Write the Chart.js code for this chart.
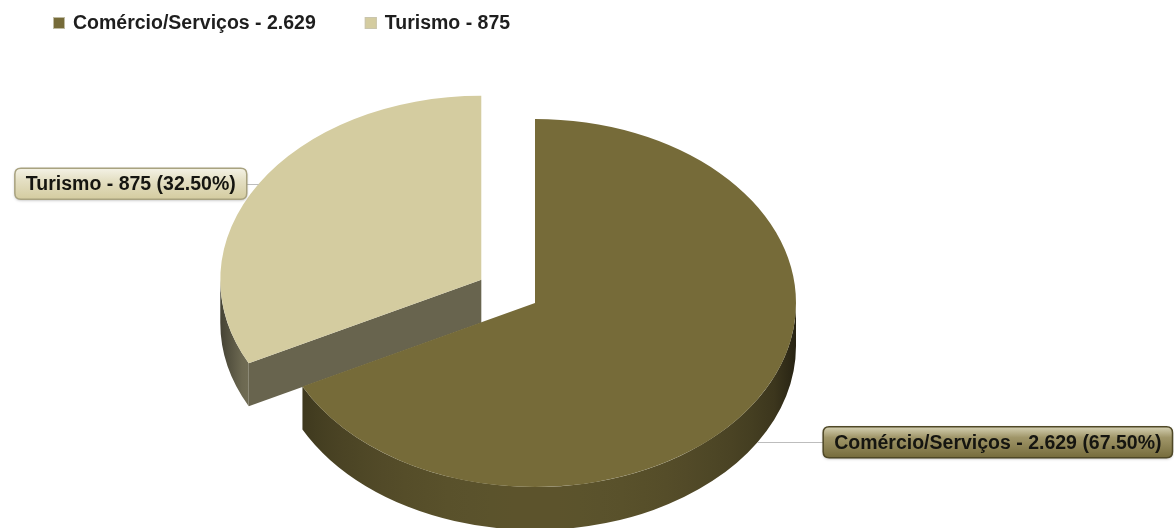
<!DOCTYPE html>
<html>
<head>
<meta charset="utf-8">
<script src="https://cdn.jsdelivr.net/npm/chart.js@4.4.1/dist/chart.umd.min.js"></script>
<style>
    html, body { margin: 0; padding: 0; background: #fff; overflow: hidden; }
    #wrap { width: 1174px; height: 528px; position: relative; }
</style>
</head>
<body>
<div id="wrap"><canvas id="graficoSetores"></canvas></div>
<script>
// ----- DADOS -----
const categorias = ['Comércio/Serviços', 'Turismo'];
const quantidades = [2629, 875];
const percentuais = [67.50, 32.50];
const coresTopo = ['#766b39', '#d4cca0'];

// ----- ESTILO 3D -----
const ACHATAMENTO = 0.705;   // razão altura/largura da elipse
const ESPESSURA = 43;        // altura lateral da pizza
const DESTAQUE = [0, 63];    // deslocamento radial de cada fatia
const FONTE = "bold 19.5px 'Liberation Sans', Arial, sans-serif";

function formataNumero(n) {
    return String(n).replace(/\B(?=(\d{3})+(?!\d))/g, '.');
}

function hexParaRgb(hex) {
    const v = parseInt(hex.slice(1), 16);
    return [(v >> 16) & 255, (v >> 8) & 255, v & 255];
}

function rgb(c, f) {
    return `rgb(${Math.round(c[0] * f)}, ${Math.round(c[1] * f)}, ${Math.round(c[2] * f)})`;
}

// centro vertical usado como eixo do achatamento
function pivo(chart) {
    return (chart.chartArea.top + chart.chartArea.bottom) / 2;
}

function centroTela(arc, py) {
    return { x: arc.x, y: py + (arc.y - py) * ACHATAMENTO };
}

function pontoBorda(arc, ang, py) {
    const c = centroTela(arc, py);
    return {
        x: c.x + arc.outerRadius * Math.cos(ang),
        y: c.y + arc.outerRadius * ACHATAMENTO * Math.sin(ang)
    };
}

// laterais (parte curva + cortes) de uma fatia
function desenhaLaterais(ctx, arc, i, py) {
    const base = hexParaRgb(coresTopo[i]);
    const c = centroTela(arc, py);
    const R = arc.outerRadius;
    const s = arc.startAngle;
    const e = arc.endAngle;

    // cortes radiais virados para a frente
    const cortes = [];
    if (Math.cos(s) < -1e-6) cortes.push(s);
    if (Math.cos(e) > 1e-6) cortes.push(e);
    cortes.forEach(ang => {
        const p = pontoBorda(arc, ang, py);
        ctx.beginPath();
        ctx.moveTo(c.x, c.y);
        ctx.lineTo(p.x, p.y);
        ctx.lineTo(p.x, p.y + ESPESSURA);
        ctx.lineTo(c.x, c.y + ESPESSURA);
        ctx.closePath();
        ctx.fillStyle = rgb(base, 0.49);
        ctx.fill();
    });

    // parede curva: só a metade da frente (0..PI)
    const grad = ctx.createLinearGradient(c.x - R, 0, c.x + R, 0);
    for (let k = 0; k <= 24; k++) {
        const t = k / 24;
        const seno = Math.sqrt(Math.max(0, 1 - Math.pow(2 * t - 1, 2)));
        grad.addColorStop(t, rgb(base, 0.78 * (0.42 + 0.58 * seno)));
    }
    for (let volta = -1; volta <= 1; volta++) {
        const ini = Math.max(s, volta * 2 * Math.PI);
        const fim = Math.min(e, volta * 2 * Math.PI + Math.PI);
        if (fim <= ini) continue;
        ctx.beginPath();
        ctx.ellipse(c.x, c.y, R, R * ACHATAMENTO, 0, ini, fim, false);
        ctx.ellipse(c.x, c.y + ESPESSURA, R, R * ACHATAMENTO, 0, fim, ini, true);
        ctx.closePath();
        ctx.fillStyle = grad;
        ctx.fill();
    }
}

function caixaArredondada(ctx, x, y, w, h, r) {
    ctx.beginPath();
    ctx.moveTo(x + r, y);
    ctx.lineTo(x + w - r, y);
    ctx.quadraticCurveTo(x + w, y, x + w, y + r);
    ctx.lineTo(x + w, y + h - r);
    ctx.quadraticCurveTo(x + w, y + h, x + w - r, y + h);
    ctx.lineTo(x + r, y + h);
    ctx.quadraticCurveTo(x, y + h, x, y + h - r);
    ctx.lineTo(x, y + r);
    ctx.quadraticCurveTo(x, y, x + r, y);
    ctx.closePath();
}

// rótulos com linha de chamada
function desenhaRotulos(chart, py) {
    const ctx = chart.ctx;
    const meta = chart.getDatasetMeta(0);
    ctx.save();
    ctx.font = FONTE;
    meta.data.forEach((arc, i) => {
        const meio = (arc.startAngle + arc.endAngle) / 2;
        const p = pontoBorda(arc, meio, py);
        if (Math.sin(meio) > 0) p.y += ESPESSURA;

        const texto = `${categorias[i]} - ${formataNumero(quantidades[i])} (${percentuais[i].toFixed(2)}%)`;
        const w = ctx.measureText(texto).width + 22;
        const h = 31;
        const esquerda = Math.cos(meio) < 0;
        const bx = esquerda ? p.x - 12 - w : chart.width - 1.5 - w;
        const by = p.y - h / 2;

        // linha de chamada
        ctx.strokeStyle = '#bdbdbd';
        ctx.lineWidth = 1;
        ctx.beginPath();
        ctx.moveTo(p.x, Math.round(p.y) + 0.5);
        ctx.lineTo(esquerda ? bx + w : bx, Math.round(p.y) + 0.5);
        ctx.stroke();

        // caixa com degradê
        const base = hexParaRgb(coresTopo[i]);
        const g = ctx.createLinearGradient(0, by, 0, by + h);
        if (i === 0) {
            g.addColorStop(0, 'rgb(214, 210, 180)');
            g.addColorStop(0.35, 'rgb(160, 150, 105)');
            g.addColorStop(1, 'rgb(118, 108, 60)');
        } else {
            g.addColorStop(0, 'rgb(244, 242, 230)');
            g.addColorStop(0.4, 'rgb(228, 223, 195)');
            g.addColorStop(1, rgb(base, 1));
        }
        ctx.save();
        ctx.shadowColor = 'rgba(0, 0, 0, 0.3)';
        ctx.shadowBlur = 3;
        ctx.shadowOffsetY = 1;
        caixaArredondada(ctx, bx, by, w, h, 6);
        ctx.fillStyle = g;
        ctx.fill();
        ctx.restore();
        caixaArredondada(ctx, bx, by, w, h, 6);
        ctx.strokeStyle = i === 0 ? '#4f4826' : '#a8a27f';
        ctx.lineWidth = 1.5;
        ctx.stroke();

        ctx.fillStyle = '#151510';
        ctx.textAlign = 'center';
        ctx.textBaseline = 'middle';
        ctx.fillText(texto, bx + w / 2, p.y + 1);
    });
    ctx.restore();
}

// legenda no topo
function desenhaLegenda(chart) {
    const ctx = chart.ctx;
    ctx.save();
    ctx.font = FONTE;
    ctx.textBaseline = 'middle';
    ctx.textAlign = 'left';
    let x = 53;
    categorias.forEach((cat, i) => {
        ctx.fillStyle = coresTopo[i];
        ctx.fillRect(x, 17, 12, 12);
        ctx.strokeStyle = 'rgba(200, 196, 175, 0.9)';
        ctx.lineWidth = 1;
        ctx.strokeRect(x + 0.5, 17.5, 11, 11);
        const texto = `${cat} - ${formataNumero(quantidades[i])}`;
        ctx.fillStyle = '#1e1e1e';
        ctx.fillText(texto, x + 20, 24);
        x += 20 + ctx.measureText(texto).width + 49;
    });
    ctx.restore();
}

const pizza3d = {
    id: 'pizza3d',
    afterDatasetUpdate(chart) {
        const meta = chart.getDatasetMeta(0);
        meta.data.forEach((arc, i) => {
            const meio = (arc.startAngle + arc.endAngle) / 2;
            arc.x += Math.cos(meio) * DESTAQUE[i];
            arc.y += Math.sin(meio) * DESTAQUE[i];
        });
    },
    beforeDatasetsDraw(chart) {
        const ctx = chart.ctx;
        const meta = chart.getDatasetMeta(0);
        const py = pivo(chart);
        // de trás para frente
        const ordem = meta.data.map((a, i) => i).sort((a, b) => meta.data[a].y - meta.data[b].y);
        ordem.forEach(i => desenhaLaterais(ctx, meta.data[i], i, py));
        // achata o topo das fatias
        ctx.save();
        ctx.translate(0, py);
        ctx.scale(1, ACHATAMENTO);
        ctx.translate(0, -py);
    },
    afterDatasetsDraw(chart) {
        chart.ctx.restore();
    },
    afterDraw(chart) {
        desenhaRotulos(chart, pivo(chart));
        desenhaLegenda(chart);
    }
};

const ctx = document.getElementById('graficoSetores').getContext('2d');
new Chart(ctx, {
    type: 'pie',
    data: {
        labels: categorias,
        datasets: [{
            data: percentuais,
            backgroundColor: coresTopo,
            borderWidth: 0,
            hoverOffset: 0,
            radius: 261
        }]
    },
    options: {
        responsive: true,
        maintainAspectRatio: false,
        animation: false,
        events: [],
        layout: { padding: { top: 78, bottom: 0, left: 0, right: 104 } },
        plugins: {
            legend: { display: false },
            tooltip: { enabled: false }
        }
    },
    plugins: [pizza3d]
});
</script>
</body>
</html>
